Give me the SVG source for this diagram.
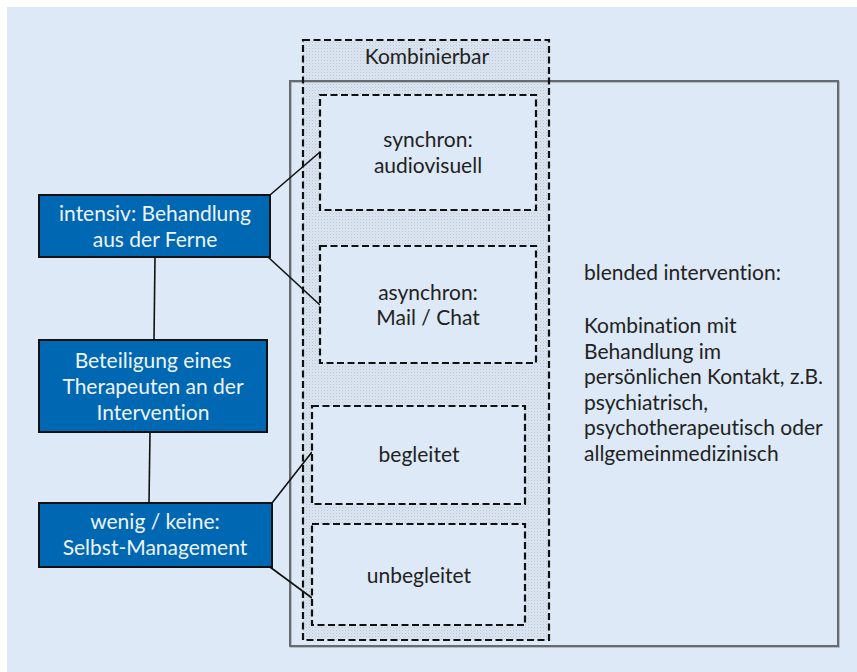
<svg xmlns="http://www.w3.org/2000/svg" width="857" height="672" viewBox="0 0 857 672">
<defs>
<pattern id="dots" width="3" height="3" patternUnits="userSpaceOnUse">
<rect width="3" height="3" fill="#dbe6f2"/>
<rect x="0" y="0" width="1" height="1" fill="#bac5d1"/>
<rect x="1.5" y="1.5" width="1" height="1" fill="#cbd5e0"/>
</pattern>
</defs>
<style>
text{font-family:Lato,"Open Sans","Liberation Sans",sans-serif;font-size:21px;fill:#222;font-variant-ligatures:none}
.c{text-anchor:middle}
.w{fill:#eef4fb}
.node{fill:#0067b2;stroke:#111;stroke-width:2}
.dash{fill:#dde9f6;stroke:#111;stroke-width:2.2;stroke-dasharray:7 3.5}
.edge{stroke:#111;stroke-width:1.6;fill:none}
</style>
<rect x="7" y="7" width="850" height="665" fill="#dde9f6"/>
<g id="kombinierbar">
<rect x="303" y="40" width="246" height="600" fill="url(#dots)"/>
</g>
<g id="blended">
<rect x="291" y="82" width="548" height="565" fill="none" stroke="#b5bcc4" stroke-width="2"/>
<rect x="290" y="81" width="548" height="565" fill="none" stroke="#666b72" stroke-width="2"/>
<text x="584" y="280">blended intervention:</text>
<text x="584" y="333">Kombination mit</text>
<text x="584" y="358.5">Behandlung im</text>
<text x="584" y="384">persönlichen Kontakt, z.B.</text>
<text x="584" y="409.5">psychiatrisch,</text>
<text x="584" y="435">psychotherapeutisch oder</text>
<text x="584" y="460.5">allgemeinmedizinisch</text>
</g>
<g id="kombinierbar-frame">
<rect x="303" y="40" width="246" height="600" fill="none" stroke="#111" stroke-width="2.2" stroke-dasharray="7 3.5"/>
<text class="c" x="427" y="64">Kombinierbar</text>
</g>
<g id="connectors">
<line class="edge" x1="270" y1="195" x2="320" y2="152"/>
<line class="edge" x1="268" y1="257" x2="320" y2="305"/>
<line class="edge" x1="155" y1="257" x2="154" y2="340"/>
<line class="edge" x1="150" y1="432" x2="149" y2="503"/>
<line class="edge" x1="272" y1="503" x2="312" y2="452"/>
<line class="edge" x1="270" y1="567" x2="312" y2="598"/>
</g>
<g id="synchron">
<rect class="dash" x="320" y="95" width="216" height="115"/>
<text class="c" x="428" y="147">synchron:</text>
<text class="c" x="428" y="173">audiovisuell</text>
</g>
<g id="asynchron">
<rect class="dash" x="320" y="246" width="216" height="117"/>
<text class="c" x="428" y="300">asynchron:</text>
<text class="c" x="428" y="325">Mail / Chat</text>
</g>
<g id="begleitet">
<rect class="dash" x="312" y="406" width="213" height="98"/>
<text class="c" x="419" y="462">begleitet</text>
</g>
<g id="unbegleitet">
<rect class="dash" x="312" y="524" width="213" height="101"/>
<text class="c" x="419" y="583">unbegleitet</text>
</g>
<g id="intensiv">
<rect class="node" x="39" y="195" width="231" height="62"/>
<text class="c w" x="155" y="221">intensiv: Behandlung</text>
<text class="c w" x="155" y="247">aus der Ferne</text>
</g>
<g id="beteiligung">
<rect class="node" x="39" y="340" width="228" height="92"/>
<text class="c w" x="153" y="368">Beteiligung eines</text>
<text class="c w" x="153" y="394">Therapeuten an der</text>
<text class="c w" x="153" y="420">Intervention</text>
</g>
<g id="wenig">
<rect class="node" x="39" y="503" width="233" height="64"/>
<text class="c w" x="155" y="529">wenig / keine:</text>
<text class="c w" x="155" y="555">Selbst-Management</text>
</g>
</svg>
